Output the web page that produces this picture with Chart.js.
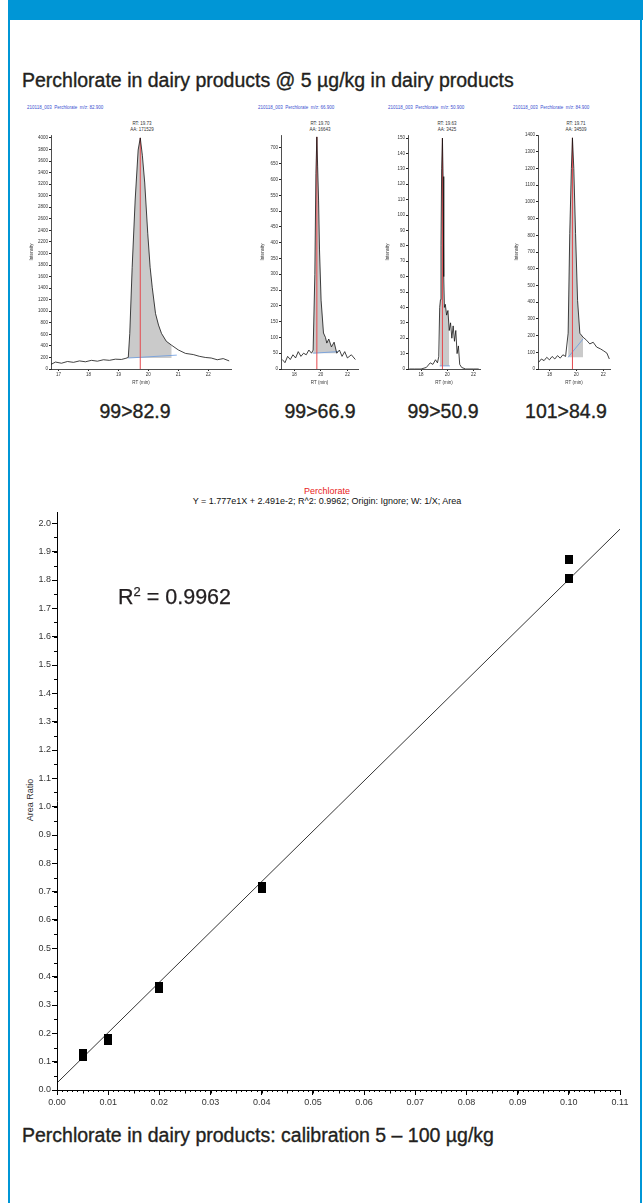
<!DOCTYPE html>
<html>
<head>
<meta charset="utf-8">
<script src="https://cdn.jsdelivr.net/npm/chart.js@4.4.1/dist/chart.umd.min.js"></script>
<style>
  html, body { margin: 0; padding: 0; background: #fff; }
  body { width: 643px; height: 1203px; position: relative; overflow: hidden; font-family: "Liberation Sans", Arial, sans-serif; color: #231f20; }
  .abs { position: absolute; white-space: nowrap; }
  .banner { left: 8px; top: 0; width: 635px; height: 20px; background: #0096d6; }
  .side { top: 20px; width: 2px; height: 1183px; background: #0096d6; }
  .big { font-size: 19.5px; line-height: 22px; -webkit-text-stroke: 0.35px #231f20; }
  .tiny { font-size: 4.5px; line-height: 5.5px; }
  .hdr { color: #3a4fd0; }
  .ann { text-align: center; width: 40px; color: #333; }
  .lbl { text-align: center; width: 120px; }
  canvas { position: absolute; }
</style>
</head>
<body>
<div class="abs banner"></div>
<div class="abs side" style="left:8px"></div>
<div class="abs side" style="left:640px"></div>

<div class="abs big" style="left:22px; top:69px">Perchlorate in dairy products @ 5 µg/kg in dairy products</div>

<div id="chromHeaders"></div>

<canvas id="chrom1" style="left:18px; top:128px; width:216px; height:262px"></canvas>
<canvas id="chrom2" style="left:250px; top:128px; width:112px; height:262px"></canvas>
<canvas id="chrom3" style="left:378px; top:128px; width:106px; height:262px"></canvas>
<canvas id="chrom4" style="left:508px; top:128px; width:106px; height:262px"></canvas>

<div class="abs" style="left:0; top:486px; width:654px; text-align:center; font-size:9px; line-height:10px; color:#e8221b">Perchlorate</div>
<div class="abs" style="left:0; top:496px; width:654px; text-align:center; font-size:9px; line-height:10px; color:#111">Y = 1.777e1X + 2.491e-2; R^2: 0.9962; Origin: Ignore; W: 1/X; Area</div>
<div class="abs" style="left:30px; top:800px; font-size:9px; line-height:10px; color:#333; transform: translate(-50%, -50%) rotate(-90deg)">Area Ratio</div>

<canvas id="calChart" style="left:0; top:500px; width:643px; height:620px"></canvas>

<div class="abs" style="left:118px; top:585px; font-size:21.5px; line-height:24px; -webkit-text-stroke:0.25px #231f20">R<sup style="font-size:13px; line-height:0">2</sup> = 0.9962</div>
<div class="abs big" style="left:22px; top:1124px">Perchlorate in dairy products: calibration 5 – 100 µg/kg</div>

<script>
// Chromatograms (time in min, intensity)
var p1Time = [16.75, 16.9, 17.1, 17.3, 17.5, 17.7, 17.9, 18.1, 18.3, 18.5, 18.7, 18.9, 19.1, 19.25, 19.33, 19.38, 19.46, 19.56, 19.66, 19.73, 19.8, 19.88, 19.98, 20.06, 20.13, 20.24, 20.34, 20.44, 20.6, 20.78, 21.0, 21.24, 21.5, 21.7, 21.9, 22.1, 22.3, 22.5, 22.7];
var p1Int  = [80, 120, 100, 130, 115, 140, 125, 150, 135, 160, 150, 170, 165, 185, 200, 615, 1760, 2925, 3790, 4000, 3700, 3220, 2350, 1760, 1415, 960, 760, 615, 480, 410, 330, 270, 250, 220, 200, 190, 160, 180, 140];

var p2Time = [17.1, 17.3, 17.5, 17.7, 17.9, 18.1, 18.3, 18.5, 18.7, 18.9, 19.1, 19.3, 19.42, 19.55, 19.63, 19.70, 19.76, 19.83, 19.90, 20.02, 20.2, 20.35, 20.45, 20.6, 20.8, 21.0, 21.2, 21.4, 21.6, 21.8, 22.0, 22.3, 22.6];
var p2Int  = [30, 20, 40, 30, 45, 35, 55, 40, 50, 45, 60, 50, 60, 300, 620, 735, 640, 535, 377, 218, 114, 100, 82, 95, 70, 85, 50, 60, 40, 55, 35, 45, 30];

var p3Time = [17.1, 17.5, 18.0, 18.4, 18.7, 18.9, 19.1, 19.25, 19.35, 19.42, 19.48, 19.52, 19.57, 19.63, 19.68, 19.73, 19.78, 19.85, 19.95, 20.05, 20.15, 20.25, 20.35, 20.45, 20.55, 20.65, 20.75, 20.85, 20.95, 21.1, 21.4, 22.0, 22.4];
var p3Int  = [0, 0, 0, 1, 4, 3, 6, 4, 8, 40, 45, 80, 130, 150, 125, 60, 40, 42, 35, 38, 25, 30, 20, 28, 18, 25, 10, 15, 3, 1, 0, 0, 0];

var p4Time = [17.2, 17.4, 17.6, 17.8, 18.0, 18.2, 18.4, 18.6, 18.8, 19.0, 19.2, 19.39, 19.51, 19.63, 19.71, 19.81, 19.94, 20.09, 20.26, 20.5, 20.76, 21.0, 21.25, 21.51, 21.8, 22.0, 22.27, 22.45];
var p4Int  = [40, 60, 50, 70, 55, 75, 60, 80, 65, 85, 75, 214, 810, 1200, 1383, 1200, 810, 410, 214, 190, 172, 150, 160, 131, 120, 110, 95, 60];

var transitions = ['99>82.9', '99>66.9', '99>50.9', '101>84.9'];
var mzValues = ['82.900', '66.900', '50.900', '84.900'];
var rtValues = [19.73, 19.70, 19.63, 19.71];
var areaValues = [171529, 16643, 3425, 34509];
var yTickStep = [200, 50, 10, 100];
var xTickLabels = [[17, 18, 19, 20, 21, 22], [18, 20, 22], [18, 20, 22], [18, 20, 22]];
// integration window and baseline level
var peakStart = [19.33, 19.42, 19.42, 19.39];
var peakEnd = [20.95, 21.3, 20.2, 20.5];
var baseStart = [190, 50, 2, 70];
var baseEnd = [240, 55, 2, 180];

// Calibration
var concLevels = [0.005, 0.005, 0.01, 0.01, 0.02, 0.02, 0.04, 0.04, 0.1, 0.1];
var areaRatios = [0.12, 0.128, 0.175, 0.183, 0.357, 0.365, 0.712, 0.72, 1.806, 1.872];
var fitConc = [0, 0.11];
var fitRatio = [0.0249, 1.9796];

// layout of each small chart (not data)
var chromLayout = [
  { id: 'chrom1', xMin: 16.75, xMax: 22.76, yMax: 4050, axisW: 33, padR: 3, titleOff: 11, hx: 27, rx: 142, lx: 135 },
  { id: 'chrom2', xMin: 17.0, xMax: 22.8, yMax: 741, axisW: 31, padR: 4, titleOff: 10, hx: 258, rx: 320, lx: 320 },
  { id: 'chrom3', xMin: 17.0, xMax: 22.5, yMax: 152, axisW: 30, padR: 4, titleOff: 7, hx: 388, rx: 447, lx: 443 },
  { id: 'chrom4', xMin: 17.15, xMax: 22.5, yMax: 1400, axisW: 30, padR: 4, titleOff: 6, hx: 513, rx: 576, lx: 566 }
];
var traces = [[p1Time, p1Int], [p2Time, p2Int], [p3Time, p3Int], [p4Time, p4Int]];

// minor tick marks drawn from the scales
var minorTicks = {
  id: 'minorTicks',
  afterDraw: function (chart, args, opts) {
    var marks = opts.marks || [];
    var ctx = chart.ctx, area = chart.chartArea;
    ctx.save();
    ctx.strokeStyle = opts.color || '#000';
    ctx.lineWidth = opts.width || 1;
    marks.forEach(function (m) {
      var scale = chart.scales[m.axis];
      var k0 = Math.ceil(scale.min / m.step - 1e-6), k1 = Math.floor(scale.max / m.step + 1e-6);
      for (var k = k0; k <= k1; k++) {
        var p = Math.round(scale.getPixelForValue(k * m.step)) + 0.5;
        ctx.beginPath();
        if (m.axis === 'x') { ctx.moveTo(p, area.bottom); ctx.lineTo(p, area.bottom + m.len); }
        else { ctx.moveTo(area.left - m.len, p); ctx.lineTo(area.left, p); }
        ctx.stroke();
      }
    });
    ctx.restore();
  }
};

var tinyFont = { family: 'Liberation Sans', size: 4.5 };
var headers = document.getElementById('chromHeaders');

chromLayout.forEach(function (L, i) {
  var t = traces[i][0], v = traces[i][1];
  var pts = t.map(function (x, j) { return { x: x, y: v[j] }; });
  var peakPts = pts.filter(function (p) { return p.x >= peakStart[i] && p.x <= peakEnd[i]; });
  var apex = Math.max.apply(null, v);

  headers.insertAdjacentHTML('beforeend',
    '<div class="abs tiny hdr" style="left:' + L.hx + 'px; top:105px">210118_003&nbsp;&nbsp;Perchlorate&nbsp;&nbsp;m/z: ' + mzValues[i] + '</div>' +
    '<div class="abs tiny ann" style="left:' + (L.rx - 20) + 'px; top:121px">RT: ' + rtValues[i].toFixed(2) + '<br>AA: ' + areaValues[i] + '</div>' +
    '<div class="abs big lbl" style="left:' + (L.lx - 60) + 'px; top:400px">' + transitions[i].replace('>', '&gt;') + '</div>');

  new Chart(document.getElementById(L.id), {
    type: 'scatter',
    data: {
      datasets: [
        { data: pts, showLine: true, borderColor: '#111', borderWidth: 0.8, pointRadius: 0 },
        { data: [{ x: rtValues[i], y: 0 }, { x: rtValues[i], y: apex }], showLine: true, borderColor: '#e5484d', borderWidth: 1, pointRadius: 0 },
        { data: [{ x: peakStart[i], y: baseStart[i] }, { x: peakEnd[i], y: baseEnd[i] }], showLine: true, borderColor: '#6a9be0', borderWidth: 0.8, pointRadius: 0 },
        { data: peakPts, showLine: true, borderWidth: 0, pointRadius: 0, fill: { value: baseStart[i] }, backgroundColor: '#cacaca' }
      ]
    },
    options: {
      responsive: false, animation: false,
      layout: { padding: { top: 7, right: L.padR, left: 0, bottom: 0 } },
      plugins: { legend: { display: false }, tooltip: { enabled: false } },
      scales: {
        x: {
          type: 'linear', min: L.xMin, max: L.xMax,
          afterBuildTicks: function (s) { s.ticks = xTickLabels[i].map(function (x) { return { value: x }; }); },
          afterFit: function (s) { s.height = 21; },
          ticks: { font: tinyFont, color: '#333', padding: 1, maxRotation: 0, autoSkip: false },
          grid: { drawOnChartArea: false, tickLength: 2, color: '#222' },
          border: { color: '#222', width: 0.8 },
          title: { display: true, text: 'RT (min)', font: tinyFont, color: '#333', padding: { top: 0, bottom: 5 } }
        },
        y: {
          min: 0, max: L.yMax,
          afterFit: function (s) { s.width = L.axisW; },
          ticks: { stepSize: yTickStep[i], includeBounds: false, callback: function (val) { return String(val); }, font: tinyFont, color: '#333', padding: 1 },
          grid: { drawOnChartArea: false, tickLength: 2, color: '#222' },
          border: { color: '#222', width: 0.8 },
          title: { display: true, text: 'Intensity', font: tinyFont, color: '#333', padding: { top: L.titleOff, bottom: 0 } }
        }
      }
    }
  });
});

// black rectangle marker
var marker = document.createElement('canvas');
marker.width = 8; marker.height = 9;
var mctx = marker.getContext('2d');
mctx.fillStyle = '#000';
mctx.fillRect(0, 0, 8, 9);

var calPoints = concLevels.map(function (c, j) { return { x: c, y: areaRatios[j] }; });
var fitPoints = fitConc.map(function (c, j) { return { x: c, y: fitRatio[j] }; });
var axisFont = { family: 'Liberation Sans', size: 9 };

new Chart(document.getElementById('calChart'), {
  type: 'scatter',
  data: {
    datasets: [
      { data: calPoints, pointStyle: marker, pointRadius: 5 },
      { data: fitPoints, showLine: true, borderColor: '#000', borderWidth: 0.8, pointRadius: 0 }
    ]
  },
  options: {
    responsive: false, animation: false,
    layout: { padding: { top: 12, right: 23, left: 0, bottom: 0 } },
    plugins: {
      legend: { display: false }, tooltip: { enabled: false },
      minorTicks: { marks: [{ axis: 'x', step: 0.001, len: 2 }, { axis: 'x', step: 0.005, len: 3.5 }, { axis: 'y', step: 0.05, len: 3 }] }
    },
    scales: {
      x: {
        type: 'linear', min: 0, max: 0.11,
        afterFit: function (s) { s.height = 30; },
        ticks: { stepSize: 0.01, callback: function (v) { return Number(v).toFixed(2); }, font: axisFont, color: '#333', padding: 2, maxRotation: 0, autoSkip: false },
        grid: { drawOnChartArea: false, tickLength: 5, color: '#000' },
        border: { color: '#000' }
      },
      y: {
        min: 0, max: 2.04,
        afterFit: function (s) { s.width = 57; },
        ticks: { stepSize: 0.1, includeBounds: false, callback: function (v) { return Number(v).toFixed(1); }, font: axisFont, color: '#333', padding: 1 },
        grid: { drawOnChartArea: false, tickLength: 5, color: '#000' },
        border: { color: '#000' }
      }
    }
  },
  plugins: [minorTicks]
});
</script>
</body>
</html>
